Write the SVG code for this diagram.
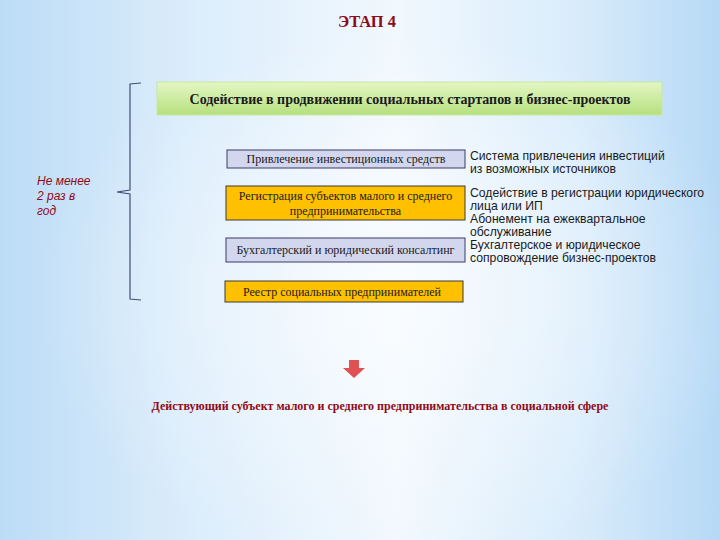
<svg xmlns="http://www.w3.org/2000/svg" width="720" height="540" viewBox="0 0 720 540">
<defs>
<linearGradient id="bg" x1="0" y1="0" x2="1" y2="0">
<stop offset="0" stop-color="#bcdcf6"/>
<stop offset="0.25" stop-color="#daecfb"/>
<stop offset="0.55" stop-color="#f1f8fe"/>
<stop offset="0.8" stop-color="#d9ecfb"/>
<stop offset="1" stop-color="#b6d9f6"/>
</linearGradient>
<radialGradient id="glow" cx="0.55" cy="0.55" r="0.5">
<stop offset="0" stop-color="#ffffff" stop-opacity="0.6"/>
<stop offset="1" stop-color="#ffffff" stop-opacity="0"/>
</radialGradient>
<linearGradient id="green" x1="0" y1="0" x2="0" y2="1">
<stop offset="0" stop-color="#e4f6c4"/>
<stop offset="1" stop-color="#b6e07e"/>
</linearGradient>
<style>
.serif{font-family:"Liberation Serif","Times New Roman",serif;}
.sans{font-family:"Liberation Sans",Arial,sans-serif;}
.red{fill:#8e0b17;}
.lav{fill:#d3d7ee;stroke:#3a3a66;stroke-width:1;}
.org{fill:#ffc000;stroke:#3a3a3a;stroke-width:1;}
.bt{font-size:12px;fill:#1a1a1a;text-anchor:middle;}
.rt{font-size:12.2px;fill:#1a1a1a;}
</style>
</defs>
<rect width="720" height="540" fill="url(#bg)"/>
<rect width="720" height="540" fill="url(#glow)"/>
<g id="title"><text x="367" y="27" class="serif red" font-size="16.5" font-weight="bold" text-anchor="middle">ЭТАП 4</text></g>
<g id="main">
<rect x="157" y="82" width="505" height="33" fill="url(#green)" stroke="#c8e8a0" stroke-width="1"/>
<text x="410" y="104" class="serif" font-size="14" font-weight="bold" fill="#1a1a1a" text-anchor="middle">Содействие в продвижении социальных стартапов и бизнес-проектов</text>
</g>
<g id="freq">
<text class="sans red" font-size="12" font-style="italic"><tspan x="37" y="185">Не менее</tspan><tspan x="37" y="200">2 раз в</tspan><tspan x="37" y="215">год</tspan></text>
</g>
<g id="connectors">
<path d="M141,83 L130,84 L130,190 L117,192 L130,194 L130,299 L141,300" fill="none" stroke="#3e4f7a" stroke-width="1.2"/>
</g>
<g id="box1">
<rect x="227" y="150" width="238" height="18" class="lav"/>
<text x="346" y="163" class="serif bt">Привлечение инвестиционных средств</text>
</g>
<g id="box2">
<rect x="226" y="186" width="239" height="34" class="org"/>
<text class="serif bt"><tspan x="345.5" y="200">Регистрация субъектов малого и среднего</tspan><tspan x="345.5" y="215">предпринимательства</tspan></text>
</g>
<g id="box3">
<rect x="226" y="238" width="239" height="24" class="lav"/>
<text x="345.5" y="254" class="serif bt">Бухгалтерский и юридический консалтинг</text>
</g>
<g id="desc">
<text class="sans rt">
<tspan x="470" y="160">Система привлечения инвестиций</tspan>
<tspan x="470" y="173">из возможных источников</tspan>
<tspan x="470" y="197">Содействие в регистрации юридического</tspan>
<tspan x="470" y="210">лица или ИП</tspan>
<tspan x="470" y="223">Абонемент на ежеквартальное</tspan>
<tspan x="470" y="236">обслуживание</tspan>
<tspan x="470" y="249">Бухгалтерское и юридическое</tspan>
<tspan x="470" y="262">сопровождение бизнес-проектов</tspan>
</text>
</g>
<g id="box4">
<rect x="225" y="281" width="238" height="21" class="org"/>
<text x="342" y="296" class="serif bt">Реестр социальных предпринимателей</text>
</g>
<g id="arrow">
<path d="M349,360 H359 V368 H365 L354,378 L343,368 H349 Z" fill="#e05252"/>
</g>
<g id="result">
<text x="380" y="410" class="serif red" font-size="12" font-weight="bold" text-anchor="middle">Действующий субъект малого и среднего предпринимательства в социальной сфере</text>
</g>
</svg>
